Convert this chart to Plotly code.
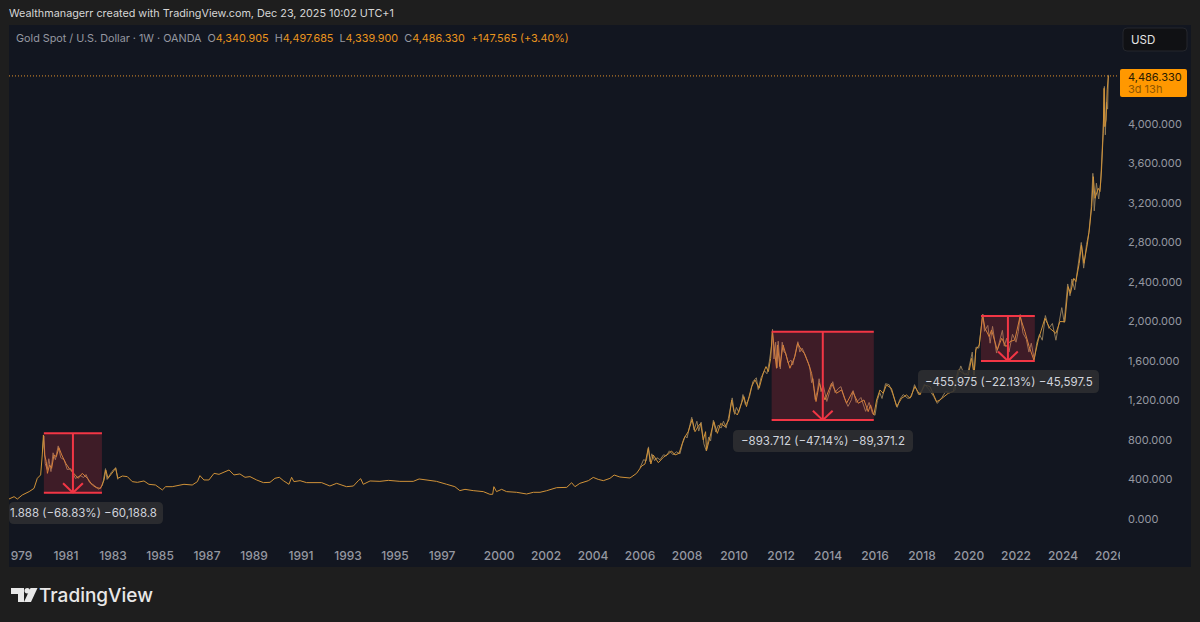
import pandas as pd
import plotly.graph_objects as go

# gold weekly (decimal year, price)
years = [
    1978.57, 1978.79, 1978.93, 1979.14, 1979.43, 1979.64, 1979.78, 1979.92, 1979.99, 1980.04,
    1980.09, 1980.16, 1980.21, 1980.30, 1980.39, 1980.49, 1980.59, 1980.70, 1980.82, 1980.99,
    1981.13, 1981.34, 1981.52, 1981.69, 1981.91, 1982.12, 1982.29, 1982.47, 1982.62, 1982.69,
    1982.79, 1982.90, 1983.11, 1983.21, 1983.40, 1983.61, 1983.82, 1984.04, 1984.32, 1984.53,
    1984.81, 1985.10, 1985.24, 1985.52, 1985.81, 1986.02, 1986.37, 1986.59, 1986.70, 1986.87,
    1987.08, 1987.30, 1987.51, 1987.94, 1988.15, 1988.40, 1988.62, 1988.83, 1989.11, 1989.40,
    1989.68, 1989.89, 1990.08, 1990.25, 1990.49, 1990.60, 1990.70, 1990.96, 1991.24, 1991.52,
    1991.88, 1992.23, 1992.52, 1992.94, 1993.23, 1993.44, 1993.54, 1993.65, 1993.94, 1994.36,
    1994.72, 1995.21, 1995.78, 1996.03, 1996.49, 1996.77, 1997.20, 1997.55, 1997.76, 1997.98,
    1998.90, 1999.33, 1999.61, 1999.73, 1999.78, 1999.89, 2000.11, 2000.32, 2000.75, 2001.17,
    2001.46, 2001.74, 2002.02, 2002.45, 2002.88, 2003.09, 2003.23, 2003.44, 2003.80, 2004.01,
    2004.22, 2004.44, 2004.72, 2004.90, 2005.14, 2005.57, 2005.85, 2006.07, 2006.21, 2006.35,
    2006.46, 2006.56, 2006.78, 2006.99, 2007.20, 2007.34, 2007.49, 2007.66, 2007.87, 2008.05,
    2008.22, 2008.34, 2008.48, 2008.58, 2008.69, 2008.79, 2008.83, 2009.05, 2009.14, 2009.29,
    2009.43, 2009.61, 2009.78, 2009.90, 2010.00, 2010.14, 2010.25, 2010.42, 2010.53, 2010.75,
    2010.89, 2011.07, 2011.24, 2011.36, 2011.46, 2011.56, 2011.63, 2011.71, 2011.81, 2011.85,
    2011.95, 2012.09, 2012.24, 2012.38, 2012.59, 2012.71, 2012.87, 2012.99, 2013.16, 2013.30,
    2013.40, 2013.49, 2013.63, 2013.73, 2013.87, 2014.15, 2014.36, 2014.58, 2014.79, 2015.05,
    2015.29, 2015.53, 2015.71, 2015.81, 2015.95, 2016.07, 2016.21, 2016.35, 2016.49, 2016.70,
    2016.92, 2017.13, 2017.34, 2017.49, 2017.70, 2017.91, 2018.12, 2018.34, 2018.62, 2018.76,
    2019.12, 2019.33, 2019.54, 2019.75, 2019.97, 2020.11, 2020.22, 2020.29, 2020.44, 2020.58,
    2020.68, 2020.86, 2020.96, 2021.20, 2021.39, 2021.57, 2021.74, 2021.95, 2022.17, 2022.38,
    2022.56, 2022.76, 2022.95, 2023.23, 2023.44, 2023.70, 2023.87, 2024.08, 2024.22, 2024.32,
    2024.46, 2024.55, 2024.69, 2024.79, 2024.89, 2025.03, 2025.12, 2025.22, 2025.29, 2025.36,
    2025.50, 2025.57, 2025.64, 2025.71, 2025.75, 2025.78, 2025.83, 2025.88, 2025.93,
]
prices = [
    202, 226, 202, 243, 277, 310, 412, 446, 648, 851,
    648, 581, 462, 547, 513, 648, 631, 722, 648, 564,
    513, 462, 412, 462, 412, 344, 317, 310, 395, 496,
    412, 446, 513, 412, 435, 429, 378, 371, 385, 351,
    344, 294, 327, 327, 344, 351, 344, 378, 439, 395,
    395, 462, 452, 496, 446, 456, 422, 429, 395, 368,
    371, 412, 422, 388, 351, 422, 378, 388, 368, 368,
    368, 334, 361, 327, 334, 388, 408, 351, 385, 381,
    391, 381, 381, 405, 388, 381, 351, 327, 287, 300,
    287, 277, 250, 250, 327, 277, 300, 277, 270, 253,
    270, 270, 286, 317, 320, 367, 327, 361, 388, 421,
    401, 388, 411, 445, 425, 415, 462, 536, 557, 715,
    557, 648, 570, 624, 658, 688, 648, 665, 816, 884,
    1009, 884, 941, 968, 800, 884, 692, 884, 985, 867,
    968, 935, 1002, 1205, 1087, 1053, 1121, 1239, 1138, 1340,
    1408, 1324, 1475, 1543, 1492, 1627, 1897, 1695, 1526, 1762,
    1543, 1762, 1644, 1526, 1644, 1779, 1712, 1678, 1577, 1475,
    1324, 1189, 1374, 1307, 1205, 1374, 1273, 1307, 1172, 1290,
    1172, 1205, 1087, 1155, 1053, 1205, 1306, 1273, 1357, 1323,
    1138, 1222, 1256, 1222, 1340, 1256, 1357, 1340, 1188, 1205,
    1273, 1290, 1509, 1475, 1458, 1627, 1458, 1712, 1762, 2066,
    1931, 1847, 1914, 1712, 1830, 1745, 1796, 1813, 2049, 1897,
    1745, 1610, 1813, 2032, 1931, 1880, 1999, 1998, 2352, 2285,
    2437, 2403, 2589, 2774, 2589, 2774, 2926, 3163, 3466, 3247,
    3348, 3315, 3534, 3906, 4361, 3973, 4040, 4345, 4486,
]

# high/low swings around the closes, None splits the two stretches
wick_years = [
    1980.00, 1980.06, 1980.12, 1980.20, 1980.27, 1980.36, 1980.45, 1980.55, 1980.67, 1980.78,
    1980.92, 1981.05, 1981.20, 1981.40, 1981.60, 1981.75, 1981.85, 1982.00, 1982.20, 1982.40,
    1982.55, 1982.68, 1982.75, 1982.95, 1983.12, 1983.20, None,
    2006.00, 2006.15, 2006.27, 2006.36, 2006.42, 2006.50, 2006.62, 2006.72, 2006.85, 2007.00,
    2007.12, 2007.25, 2007.40, 2007.55, 2007.70, 2007.80, 2007.93, 2008.00, 2008.13, 2008.20,
    2008.30, 2008.42, 2008.50, 2008.60, 2008.72, 2008.82, 2008.92, 2009.00, 2009.12, 2009.22,
    2009.33, 2009.45, 2009.55, 2009.66, 2009.76, 2009.87, 2009.92, 2010.02, 2010.10, 2010.20,
    2010.32, 2010.38, 2010.48, 2010.58, 2010.66, 2010.80, 2010.95, 2011.03, 2011.15, 2011.30,
    2011.40, 2011.50, 2011.60, 2011.64, 2011.70, 2011.77, 2011.83, 2011.88, 2011.97, 2012.05,
    2012.13, 2012.20, 2012.30, 2012.42, 2012.50, 2012.63, 2012.72, 2012.80, 2012.90, 2013.03,
    2013.12, 2013.22, 2013.30, 2013.36, 2013.45, 2013.55, 2013.62, 2013.70, 2013.80, 2013.95,
    2014.08, 2014.20, 2014.30, 2014.43, 2014.55, 2014.70, 2014.85, 2015.00, 2015.07, 2015.20,
    2015.40, 2015.50, 2015.60, 2015.75, 2015.90, 2016.00, 2016.10, 2016.20, 2016.30, 2016.45,
    2016.60, 2016.75, 2016.95, 2017.05, 2017.20, 2017.40, 2017.55, 2017.68, 2017.85, 2018.00,
    2018.10, 2018.30, 2018.50, 2018.65, 2018.85, 2019.00, 2019.20, 2019.40, 2019.50, 2019.65,
    2019.80, 2019.95, 2020.08, 2020.14, 2020.21, 2020.30, 2020.42, 2020.52, 2020.59, 2020.66,
    2020.80, 2020.90, 2021.00, 2021.17, 2021.30, 2021.42, 2021.50, 2021.60, 2021.70, 2021.85,
    2022.00, 2022.10, 2022.18, 2022.30, 2022.44, 2022.55, 2022.65, 2022.78, 2022.88, 2023.00,
    2023.12, 2023.25, 2023.40, 2023.55, 2023.70, 2023.83, 2023.95, 2024.05, 2024.20, 2024.30,
    2024.38, 2024.50, 2024.62, 2024.78, 2024.88, 2025.00, 2025.10, 2025.20, 2025.27, 2025.33,
    2025.42, 2025.52, 2025.60, 2025.66, 2025.72, 2025.76, 2025.80, 2025.85, 2025.90, 2025.93,
]
wick_prices = [
    700, 840, 560, 500, 610, 480, 670, 600, 740, 620,
    600, 500, 510, 410, 440, 420, 450, 370, 340, 300,
    340, 510, 400, 480, 520, 400, None,
    520, 600, 590, 730, 580, 660, 590, 620, 600, 650,
    640, 690, 650, 680, 660, 760, 840, 820, 960, 1030,
    900, 990, 890, 980, 760, 690, 830, 790, 1000, 880,
    950, 920, 990, 920, 1020, 1150, 1226, 1060, 1130, 1080,
    1180, 1260, 1160, 1190, 1240, 1390, 1430, 1310, 1430, 1500,
    1470, 1590, 1760, 1920, 1620, 1790, 1530, 1800, 1520, 1790,
    1690, 1680, 1580, 1610, 1560, 1700, 1795, 1690, 1730, 1660,
    1610, 1540, 1380, 1420, 1210, 1300, 1420, 1290, 1350, 1190,
    1300, 1390, 1280, 1320, 1340, 1220, 1140, 1210, 1300, 1180,
    1230, 1160, 1090, 1180, 1065, 1050, 1200, 1280, 1220, 1370,
    1360, 1270, 1130, 1210, 1260, 1220, 1240, 1360, 1260, 1310,
    1365, 1310, 1240, 1170, 1230, 1290, 1280, 1300, 1430, 1550,
    1460, 1480, 1610, 1690, 1450, 1740, 1730, 1950, 2075, 1900,
    1960, 1780, 1950, 1680, 1790, 1910, 1750, 1830, 1690, 1870,
    1790, 1900, 2070, 1880, 1820, 1690, 1780, 1615, 1780, 1870,
    1810, 2060, 1930, 1980, 1810, 2010, 2140, 1990, 2380, 2260,
    2430, 2320, 2530, 2800, 2540, 2780, 2900, 3150, 3500, 3120,
    3400, 3240, 3400, 3650, 4000, 4380, 3890, 4220, 4150, 4497,
]

tick_years = [1979, 1981, 1983, 1985, 1987, 1989, 1991, 1993, 1995, 1997, 2000, 2002,
              2004, 2006, 2008, 2010, 2012, 2014, 2016, 2018, 2020, 2022, 2024, 2026]
price_ticks = [0, 400, 800, 1200, 1600, 2000, 2400, 2800, 3200, 3600, 4000]
last_close = 4486.33

# drawdown boxes: start year, end year, high, low, label
box_start = [1980.06, 2011.60, 2020.51]
box_end = [1982.53, 2015.95, 2022.80]
box_high = [868, 1895, 2056]
box_low = [266, 1001, 1600]
box_labels = ["1.888 (−68.83%) −60,188.8", "−893.712 (−47.14%) −89,371.2", "−455.975 (−22.13%) −45,597.5"]
label_boxes = [(9, 502, 163, 524), (733, 430, 913, 452), (918, 370, 1099, 393)]

PAGE = "#1e1e1e"
PANEL = "#121620"
ORANGE = "#ff9800"
RED = "#f23645"
GREY = "#9598a1"
FONT = "Inter, Roboto, sans-serif"

# plot area on the page
W, H = 1200, 622
L, R, T, B = 9, 1118, 25, 541


def to_date(y):
    yr = int(y)
    return (pd.Timestamp(yr, 1, 1) + pd.Timedelta(days=(y - yr) * 365.25)).strftime("%Y-%m-%d")


def px(x):
    return (x - L) / (R - L)


def py(y):
    return (B - y) / (B - T)


def rect(x0, y0, x1, y1, color, layer="below", line=None):
    return dict(type="rect", xref="paper", yref="paper", x0=px(x0), x1=px(x1), y0=py(y0), y1=py(y1),
                fillcolor=color, layer=layer, line=dict(width=0) if line is None else line)


def round_box(x0, y0, x1, y1, r, color, layer="above", line=None):
    pts = (f"M {px(x0 + r)} {py(y0)} L {px(x1 - r)} {py(y0)} Q {px(x1)} {py(y0)} {px(x1)} {py(y0 + r)} "
           f"L {px(x1)} {py(y1 - r)} Q {px(x1)} {py(y1)} {px(x1 - r)} {py(y1)} "
           f"L {px(x0 + r)} {py(y1)} Q {px(x0)} {py(y1)} {px(x0)} {py(y1 - r)} "
           f"L {px(x0)} {py(y0 + r)} Q {px(x0)} {py(y0)} {px(x0 + r)} {py(y0)} Z")
    return dict(type="path", xref="paper", yref="paper", path=pts, fillcolor=color, layer=layer,
                line=dict(width=0) if line is None else line)


def poly(points, color):
    pts = " L ".join(f"{px(x)} {py(y)}" for x, y in points)
    return dict(type="path", xref="paper", yref="paper", path=f"M {pts} Z", fillcolor=color,
                layer="above", line=dict(width=0))


def text(x, y, s, size=11.5, color="#d1d4dc", anchor="left", weight=None):
    return dict(xref="paper", yref="paper", x=px(x), y=py(y), text=s, showarrow=False,
                xanchor=anchor, yanchor="middle", align=anchor, borderpad=0, borderwidth=0,
                font=dict(family=FONT, size=size, color=color, weight=weight))


fig = go.Figure()
fig.add_trace(go.Scatter(
    x=[None if y is None else to_date(y) for y in wick_years],
    y=wick_prices,
    mode="lines",
    connectgaps=False,
    line=dict(color="#8f7a58", width=1),
    hoverinfo="skip",
))
fig.add_trace(go.Scatter(
    x=[to_date(y) for y in years],
    y=prices,
    mode="lines",
    line=dict(color="#d09238", width=1),
    hoverinfo="skip",
))

shapes = [rect(9, 25, 1191, 567, PANEL)]
for i in range(3):
    x0, x1 = to_date(box_start[i]), to_date(box_end[i])
    mid_year = (box_start[i] + box_end[i]) / 2
    mid = to_date(mid_year)
    hi, lo = box_high[i], box_low[i]
    shapes.append(dict(type="rect", x0=x0, x1=x1, y0=lo, y1=hi, fillcolor="rgba(242,54,69,0.2)",
                       line=dict(width=0), layer="above"))
    red = dict(color=RED, width=2)
    shapes.append(dict(type="line", x0=x0, x1=x1, y0=hi, y1=hi, line=red, layer="above"))
    shapes.append(dict(type="line", x0=x0, x1=x1, y0=lo, y1=lo, line=red, layer="above"))
    shapes.append(dict(type="line", x0=mid, x1=mid, y0=hi, y1=lo, line=red, layer="above"))
    # open arrow head
    for side in (-0.42, 0.42):
        shapes.append(dict(type="line", x0=to_date(mid_year + side), x1=mid, y0=lo + 95, y1=lo,
                           line=red, layer="above"))

shapes.append(dict(type="line", xref="paper", x0=0, x1=1, y0=last_close, y1=last_close,
                   line=dict(color="#e0902c", width=1, dash="1px,2px"), layer="above"))

for (x0, y0, x1, y1) in label_boxes:
    shapes.append(round_box(x0, y0, x1, y1, 5, "rgba(46,47,49,0.88)"))

# clip tick labels at the pane edges
shapes.append(rect(0, 545, 9, 567, PAGE, "above"))
shapes.append(rect(9, 545, 11, 567, PANEL, "above"))
shapes.append(rect(1120, 545, 1191, 567, PANEL, "above"))

shapes.append(round_box(1120, 69, 1187, 97, 2, ORANGE))
shapes.append(round_box(1123, 28, 1187, 51, 4, "#101114", line=dict(color="#24262c", width=1)))

# TradingView logo
shapes.append(poly([(11, 588), (24, 588), (24, 602), (18, 602), (18, 594), (11, 594)], "#e8e8e8"))
shapes.append(round_box(24.5, 588, 30, 593.5, 2.7, "#e8e8e8"))
shapes.append(poly([(30.5, 588), (37.5, 588), (31, 602), (24, 602)], "#e8e8e8"))

orange_txt = "color:#e8941f"
legend = ("Gold Spot / U.S. Dollar · 1W · OANDA&nbsp;&nbsp;"
          f"O<span style='{orange_txt}'>4,340.905</span>&nbsp;&nbsp;"
          f"H<span style='{orange_txt}'>4,497.685</span>&nbsp;&nbsp;"
          f"L<span style='{orange_txt}'>4,339.900</span>&nbsp;&nbsp;"
          f"C<span style='{orange_txt}'>4,486.330</span>&nbsp;&nbsp;"
          f"<span style='{orange_txt}'>+147.565 (+3.40%)</span>")

annotations = [
    text(9, 14, "Wealthmanagerr created with TradingView.com, Dec 23, 2025 10:02 UTC+1", 10.8, "#d6d6d6"),
    text(16, 38, legend, 10.8, GREY),
    text(1131, 39.5, "USD", 11.5, "#e4e4e4"),
    text(1128, 77, "4,486.330", 11, "#2a1a00"),
    text(1128, 89, "3d 13h", 11, "#8f5600"),
    text(39, 595, "TradingView", 19, "#e8e8e8", weight=500),
]
for (x0, y0, x1, y1), s, anchor_x in zip(label_boxes, box_labels, (83, None, None)):
    annotations.append(text(anchor_x or (x0 + x1) / 2, (y0 + y1) / 2, s, 11.5, "#d1d4dc", "center"))

fig.update_layout(
    width=W,
    height=H,
    autosize=False,
    margin=dict(l=L, r=W - R, t=T, b=H - B, pad=0),
    paper_bgcolor=PAGE,
    plot_bgcolor=PANEL,
    showlegend=False,
    shapes=shapes,
    annotations=annotations,
    xaxis=dict(
        type="date",
        automargin=False,
        range=[to_date(1978.574), to_date(2026.34)],
        rangebreaks=[dict(bounds=["1998-01-01", "1998-07-28"])],
        tickmode="array",
        tickvals=[f"{y}-01-01" for y in tick_years],
        ticktext=[str(y) for y in tick_years],
        tickfont=dict(family=FONT, size=12, color=GREY, weight=500),
        ticks="",
        showgrid=False,
        zeroline=False,
        showline=False,
        ticklabelstandoff=6,
    ),
    yaxis=dict(
        side="right",
        automargin=False,
        range=[-223, 5002],
        tickmode="array",
        tickvals=price_ticks,
        tickformat=",.3f",
        tickfont=dict(family=FONT, size=11, color=GREY),
        ticks="",
        showgrid=False,
        zeroline=False,
        showline=False,
        ticklabelstandoff=9,
    ),
)

fig.write_html("out.html", config={"displayModeBar": False}, post_script="document.body.style.margin='0';")
